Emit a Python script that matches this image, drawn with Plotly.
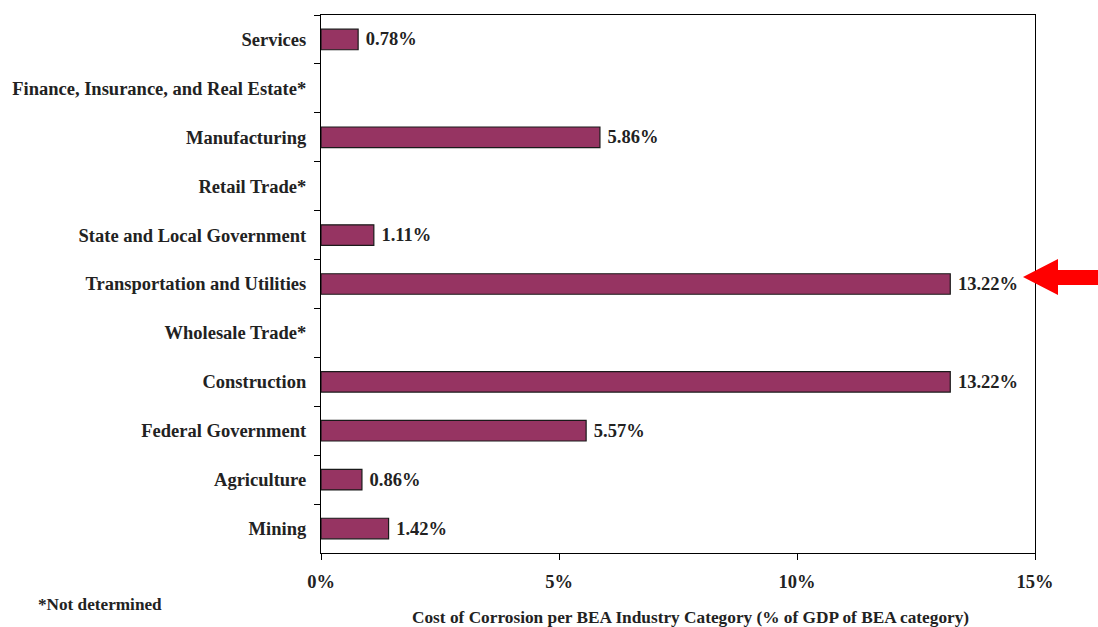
import plotly.graph_objects as go

# Industry categories, listed top to bottom
categories = [
    "Services",
    "Finance, Insurance, and Real Estate*",
    "Manufacturing",
    "Retail Trade*",
    "State and Local Government",
    "Transportation and Utilities",
    "Wholesale Trade*",
    "Construction",
    "Federal Government",
    "Agriculture",
    "Mining",
]
# Cost of corrosion as % of GDP of the category (None = not determined)
values = [0.78, None, 5.86, None, 1.11, 13.22, None, 13.22, 5.57, 0.86, 1.42]
x_ticks = [0, 5, 10, 15]
x_tick_labels = ["0%", "5%", "10%", "15%"]

W, H = 1098, 627
L, R, T, B = 321, 63, 15, 74
SERIF = "Liberation Serif, Times New Roman, serif"
INK = "#222222"

labels = [f"\u00a0{v:.2f}%" if v is not None else "" for v in values]

fig = go.Figure(
    go.Bar(
        x=values,
        y=categories,
        orientation="h",
        width=0.42,
        marker=dict(color="#963462", line=dict(color="#1a1a1a", width=1.2)),
        text=labels,
        textposition="outside",
        textfont=dict(family=SERIF, size=18.5, color=INK, weight="bold"),
        cliponaxis=False,
    )
)

fig.update_layout(
    width=W,
    height=H,
    margin=dict(l=L, r=R, t=T, b=B),
    paper_bgcolor="white",
    plot_bgcolor="white",
    showlegend=False,
    font=dict(family=SERIF, color=INK),
)

fig.update_xaxes(
    range=[0, 15],
    tickvals=x_ticks,
    ticktext=x_tick_labels,
    ticks="outside",
    ticklen=6,
    tickcolor="black",
    tickwidth=1.2,
    showline=True,
    linecolor="black",
    linewidth=1.2,
    mirror=True,
    showgrid=False,
    zeroline=False,
    tickfont=dict(family=SERIF, size=18.5, color=INK, weight="bold"),
    ticklabelstandoff=6,
)

fig.update_yaxes(
    categoryorder="array",
    categoryarray=categories,
    autorange="reversed",
    tickson="boundaries",
    ticks="outside",
    ticklen=6,
    tickcolor="black",
    tickwidth=1.2,
    showline=True,
    linecolor="black",
    linewidth=1.2,
    mirror=True,
    showgrid=False,
    tickfont=dict(family=SERIF, size=18.5, color=INK, weight="bold"),
    ticklabelstandoff=10,
)


def px_to_paper(px, py):
    return (px - L) / (W - L - R), (H - B - py) / (H - T - B)


# Axis title and footnote
tx, ty = px_to_paper(690, 618)
fig.add_annotation(
    x=tx, y=ty, xref="paper", yref="paper", showarrow=False,
    text="Cost of Corrosion per BEA Industry Category (% of GDP of BEA category)",
    font=dict(family=SERIF, size=17.3, color=INK, weight="bold"),
    xanchor="center", yanchor="middle",
)
nx, ny = px_to_paper(36, 604)
fig.add_annotation(
    x=nx, y=ny, xref="paper", yref="paper", showarrow=False,
    text="*Not determined",
    font=dict(family=SERIF, size=17.2, color=INK, weight="bold"),
    xanchor="left", yanchor="middle",
)

# Red arrow pointing at the Transportation and Utilities bar
arrow_px = [(1023, 277), (1058, 259), (1058, 270), (1100, 270),
            (1100, 285), (1058, 285), (1058, 295)]
pts = [px_to_paper(x, y) for x, y in arrow_px]
path = "M " + " L ".join(f"{x:.5f},{y:.5f}" for x, y in pts) + " Z"
fig.add_shape(type="path", path=path, xref="paper", yref="paper",
              fillcolor="#ff0000", line=dict(width=0), layer="above")

fig.write_html("out.html")
